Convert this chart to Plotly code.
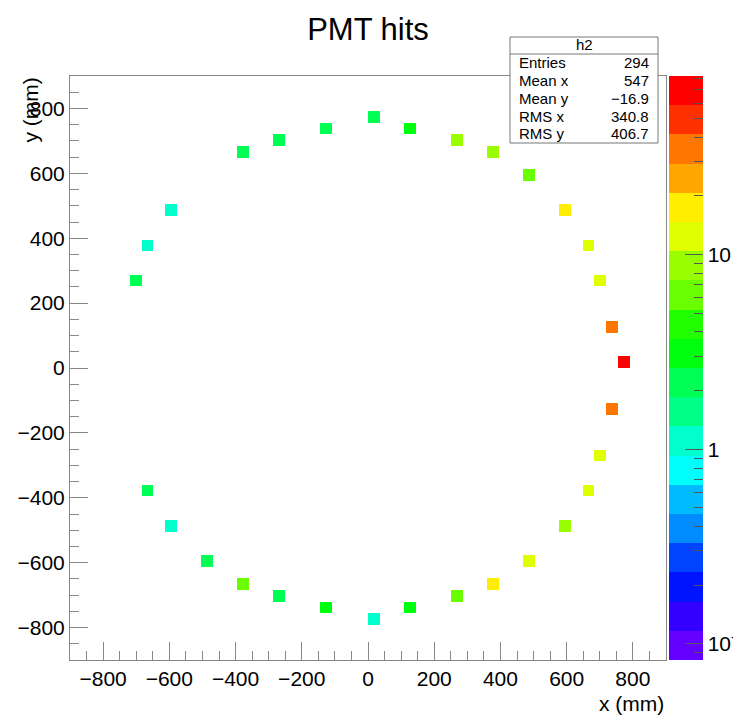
import math
import colorsys
import plotly.graph_objects as go

# ---------------- data ----------------
pmt_x = [18, 126, -126, 270, -270, -378, 378, 486, -594, 594, -666, 666, -702, 702, 738, 774,
         738, 702, -666, 666, -594, 594, -486, 486, -378, 378, -270, 270, -126, 126, 18]
pmt_y = [774, 738, 738, 702, 702, 666, 666, 594, 486, 486, 378, 378, 270, 270, 126, 18,
         -126, -270, -378, -378, -486, -486, -594, -594, -666, -666, -702, -702, -738, -738, -774]
hits = [2, 3, 2, 9, 2, 2, 9, 7, 1, 17, 1, 11, 2, 12, 36, 60,
        34, 12, 2, 11, 1, 8, 2, 11, 6, 16, 2, 6, 3, 3, 1]

x_ticks = [-800, -600, -400, -200, 0, 200, 400, 600, 800]
y_ticks = [-800, -600, -400, -200, 0, 200, 400, 600, 800]
z_major = [0.1, 1, 10]
z_major_text = ["10<sup>-1</sup>", "1", "10"]

stats_title = "h2"
stats_names = ["Entries", "Mean x", "Mean y", "RMS x", "RMS y"]
stats_values = ["294", "547", "\u221216.9", "340.8", "406.7"]

# histogram binning
NBINS = 50
LO, HI = -900.0, 900.0
BW = (HI - LO) / NBINS
Z_TOP = 82.6             # colour-axis maximum
Z_BOT = Z_TOP / 1000.0   # colour-axis minimum
NLEV = 20

# ---------------- layout geometry ----------------
W, H = 733, 722
ML, MR, MT, MB = 70, 30, 76, 62
PW, PH = W - ML - MR, H - MT - MB
FRAME_R = 666


def px_x(px):
    return (px - ML) / PW


def px_y(py):
    return (H - MB - py) / PH


FONT = "Liberation Sans, Arial, Helvetica, sans-serif"

# ---------------- ROOT "pretty palette" ----------------
def pretty_color(idx):
    if idx >= 49:
        return "rgb(255,0,0)"
    hue = 280.0 - (idx + 1) * (280.0 / 50)
    r, g, b = colorsys.hls_to_rgb(hue / 360.0, 0.5, 1.0)
    return "rgb(%d,%d,%d)" % (round(r * 255), round(g * 255), round(b * 255))


colorscale = []
for j in range(NLEV):
    c = pretty_color(int((j + 0.99) * 50 / NLEV))
    colorscale.append([j / NLEV, c])
    colorscale.append([(j + 1) / NLEV, c])

transparent = [[0, "rgba(0,0,0,0)"], [1, "rgba(0,0,0,0)"]]

# ---------------- build histogram grid ----------------
z = [[None] * NBINS for _ in range(NBINS)]
for xv, yv, hv in zip(pmt_x, pmt_y, hits):
    ix = int((xv - LO) // BW)
    iy = int((yv - LO) // BW)
    z[iy][ix] = math.log10(hv)

zlo, zhi = math.log10(Z_BOT), math.log10(Z_TOP)

minor_vals = []
for d in range(-2, 2):
    for k in range(2, 10):
        v = math.log10(k * 10 ** d)
        if zlo < v < zhi:
            minor_vals.append(v)

cb_common = dict(x=px_x(669), xanchor="left", y=0.5, yanchor="middle",
                 len=1, lenmode="fraction", thickness=34, thicknessmode="pixels",
                 xpad=0, ypad=0, outlinewidth=0, ticks="inside", tickcolor="#555",
                 tickwidth=1)

fig = go.Figure()
fig.add_trace(go.Heatmap(
    z=z, x0=LO + BW / 2, dx=BW, y0=LO + BW / 2, dy=BW,
    zmin=zlo, zmax=zhi, colorscale=colorscale, hoverinfo="skip",
    colorbar=dict(**cb_common, ticklen=9, tickvals=minor_vals,
                  ticktext=[" "] * len(minor_vals), showticklabels=False),
))
fig.add_trace(go.Heatmap(
    z=z, x0=LO + BW / 2, dx=BW, y0=LO + BW / 2, dy=BW,
    zmin=zlo, zmax=zhi, colorscale=transparent, hoverinfo="skip",
    colorbar=dict(**cb_common, ticklen=18,
                  tickvals=[math.log10(v) for v in z_major], ticktext=z_major_text,
                  tickfont=dict(family=FONT, size=21, color="black"),
                  ticklabeloverflow="allow"),
))

axis_common = dict(
    range=[LO, HI], ticks="inside", ticklen=18, tickwidth=1, tickcolor="#888",
    minor=dict(ticks="inside", ticklen=9, dtick=50, tick0=0, tickcolor="#888",
               tickwidth=1, showgrid=False),
    showgrid=False, zeroline=False, showline=True, mirror=True,
    linecolor="#888", linewidth=1,
    tickfont=dict(family=FONT, size=21, color="black"),
    fixedrange=True,
)

fig.update_layout(
    width=W, height=H,
    margin=dict(l=ML, r=MR, t=MT, b=MB, autoexpand=False),
    paper_bgcolor="white", plot_bgcolor="white",
    showlegend=False,
    xaxis=dict(domain=[0, (FRAME_R - ML) / PW], tickvals=x_ticks, **axis_common),
    yaxis=dict(domain=[0, 1], tickvals=y_ticks, **axis_common),
    title=dict(text="PMT hits", font=dict(family=FONT, size=31, color="black"),
               x=368 / W, xref="container", xanchor="center",
               y=1 - 29 / H, yref="container", yanchor="middle"),
)

ann = []
ann.append(dict(text="x (mm)", x=px_x(FRAME_R), y=px_y(703), xref="paper", yref="paper",
                xanchor="right", yanchor="middle", showarrow=False,
                font=dict(family=FONT, size=21, color="black")))
ann.append(dict(text="y (mm)", x=px_x(30), y=px_y(76), xref="paper", yref="paper",
                xanchor="center", yanchor="top", textangle=-90, showarrow=False,
                font=dict(family=FONT, size=21, color="black")))

# stats box
BX0, BX1, BY0, BY1, BSEP = 510, 658, 37, 143, 54
shapes = [
    dict(type="rect", xref="paper", yref="paper", x0=px_x(BX0), x1=px_x(BX1),
         y0=px_y(BY1), y1=px_y(BY0), line=dict(color="#777", width=1),
         fillcolor="white", layer="above"),
    dict(type="line", xref="paper", yref="paper", x0=px_x(BX0), x1=px_x(BX1),
         y0=px_y(BSEP), y1=px_y(BSEP), line=dict(color="#777", width=1), layer="above"),
]
ann.append(dict(text=stats_title, x=px_x((BX0 + BX1) / 2), y=px_y(45), xref="paper",
                yref="paper", xanchor="center", yanchor="middle", showarrow=False,
                font=dict(family=FONT, size=15, color="black")))
row_y = [63, 81, 98, 116, 133]
for name, val, ry in zip(stats_names, stats_values, row_y):
    ann.append(dict(text=name, x=px_x(517), y=px_y(ry), xref="paper", yref="paper",
                    xanchor="left", yanchor="middle", showarrow=False,
                    font=dict(family=FONT, size=15, color="black")))
    ann.append(dict(text=val, x=px_x(651), y=px_y(ry), xref="paper", yref="paper",
                    xanchor="right", yanchor="middle", showarrow=False,
                    font=dict(family=FONT, size=15, color="black")))

fig.update_layout(annotations=ann, shapes=shapes)

fig.write_html("out.html", config={"displayModeBar": False},
               post_script="document.body.style.margin='0';document.body.style.overflow='hidden';")
